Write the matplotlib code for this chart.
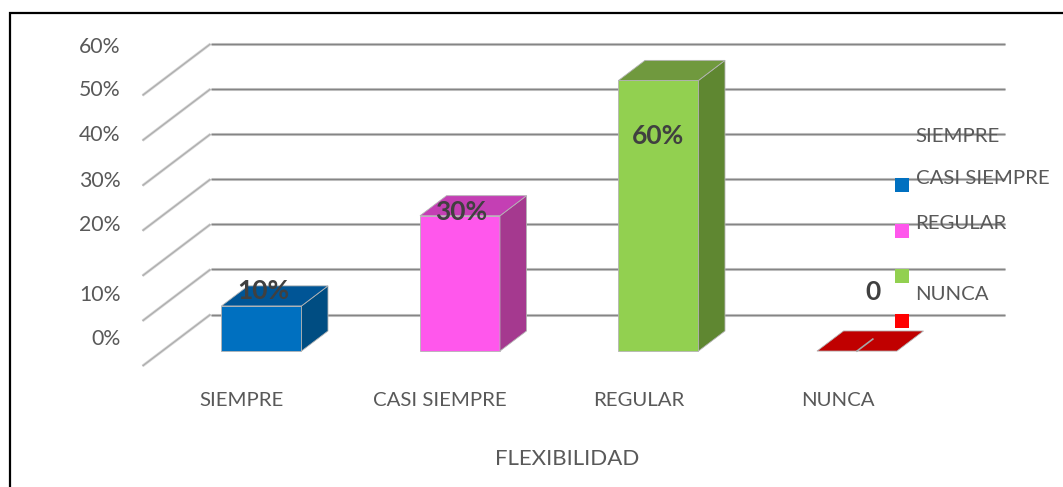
import matplotlib
matplotlib.use('Agg')
import matplotlib.pyplot as plt
from matplotlib.lines import Line2D
from matplotlib.patches import Polygon, Rectangle

categories = ['SIEMPRE', 'CASI SIEMPRE', 'REGULAR', 'NUNCA']
values = [10, 30, 60, 0]
value_labels = ['10%', '30%', '60%', '0']
grid_values = [0, 10, 20, 30, 40, 50, 60]
tick_labels = ['0%', '10%', '20%', '30%', '40%', '50%', '60%']
front_colors = ['#0070C0', '#FF57EC', '#92D050', '#C00000']
top_colors = ['#005596', '#C43FB4', '#70993E', '#C00000']
side_colors = ['#004D82', '#A5398F', '#5F8731', '#C00000']
legend_colors = ['#0070C0', '#FF57EC', '#92D050', '#FF0000']

W, H = 1063, 487
TEXT = '#595959'
plt.rcParams['font.family'] = ['Lato', 'DejaVu Sans']

fig = plt.figure(figsize=(W / 100, H / 100), dpi=100)

# front plane of the 3d box: categories across, percent up
left, right = 142.5, 936.5
bottom, top = 366.0, 95.4
ax = fig.add_axes([left / W, 1 - bottom / H, (right - left) / W, (bottom - top) / H])
ax.set_xlim(-0.5, 3.5)
ax.set_ylim(0, 60)
ax.axis('off')

# depth of the box in data units
DX = 68 / ((right - left) / 4)
DY = 51.5 / ((bottom - top) / 60)
BAR_W = 0.403
Z0, Z1 = 0.29, 0.68


def project(x, y, z):
    return x + DX * z, y + DY * z


def px_text(x, y, s, **kw):
    fig.text(x / W, 1 - y / H, s, va='center', **kw)


def grid_line(v):
    side = [project(-0.5, v, 0), project(-0.5, v, 1)]
    back = [project(-0.5, v, 1), project(3.5, v, 1)]
    style = dict(clip_on=False, solid_capstyle='butt')
    ax.plot(*zip(*side), color='#D2D2D2', lw=2.0, zorder=1, **style)
    ax.plot(*zip(*side), color='#ABABAB', lw=0.8, zorder=1.1, **style)
    ax.plot(*zip(*back), color='#C6C6C6', lw=2.2, zorder=1, **style)
    ax.plot(*zip(*back), color='#858585', lw=0.9, zorder=1.1, **style)


def draw_bar(i, v):
    x0, x1 = i - BAR_W / 2, i + BAR_W / 2
    edge = '#B4B4B4'
    if v > 0:
        ax.add_patch(Polygon([project(x0, 0, Z0), project(x1, 0, Z0), project(x1, v, Z0), project(x0, v, Z0)],
                             fc=front_colors[i], ec=edge, lw=0.6, clip_on=False, zorder=3))
        ax.add_patch(Polygon([project(x1, 0, Z0), project(x1, 0, Z1), project(x1, v, Z1), project(x1, v, Z0)],
                             fc=side_colors[i], ec=edge, lw=0.6, clip_on=False, zorder=3))
    ax.add_patch(Polygon([project(x0, v, Z0), project(x1, v, Z0), project(x1, v, Z1), project(x0, v, Z1)],
                         fc=top_colors[i], ec=edge, lw=0.6, clip_on=False, zorder=3))


for v in grid_values:
    grid_line(v)
for i, v in enumerate(values):
    draw_bar(i, v)

# leader line of the zero label
ax.plot(*zip(project(3, 0, Z0), project(3, 0, 0.523)), color='#A6A6A6', lw=1.2, clip_on=False, zorder=4)

# tick labels sit off the gridlines in the original
tick_y = [339, 295, 225, 181, 135, 90, 47]
for lab, y in zip(tick_labels, tick_y):
    px_text(120.5, y, lab, ha='right', color=TEXT, fontsize=15.3)

cat_x = [242, 440, 639, 838]
for lab, x in zip(categories, cat_x):
    px_text(x, 400, lab, ha='center', color=TEXT, fontsize=14.7)
px_text(567, 459, 'FLEXIBILIDAD', ha='center', color=TEXT, fontsize=16)

label_pos = [(263, 291), (461, 212), (658, 136), (873, 292)]
for lab, (x, y) in zip(value_labels, label_pos):
    px_text(x, y, lab, ha='center', color='#404040', fontsize=19, fontweight='bold', zorder=6)

# legend
legend_y = [137, 179, 223.5, 294.5]
for lab, y in zip(categories, legend_y):
    px_text(915.5, y, lab, ha='left', color=TEXT, fontsize=14.7, zorder=6)
square_y = [178, 224, 269, 314]
for c, y in zip(legend_colors, square_y):
    fig.add_artist(Rectangle((895 / W, 1 - (y + 14) / H), 14 / W, 14 / H, transform=fig.transFigure,
                             fc=c, ec='none', zorder=5))

# frame of the screenshot
fig.add_artist(Line2D([10 / W, 10 / W, 1], [0, 1 - 12.5 / H, 1 - 12.5 / H], color='black', lw=1.6,
                      solid_joinstyle='miter'))

fig.savefig('out.png', dpi=100)
